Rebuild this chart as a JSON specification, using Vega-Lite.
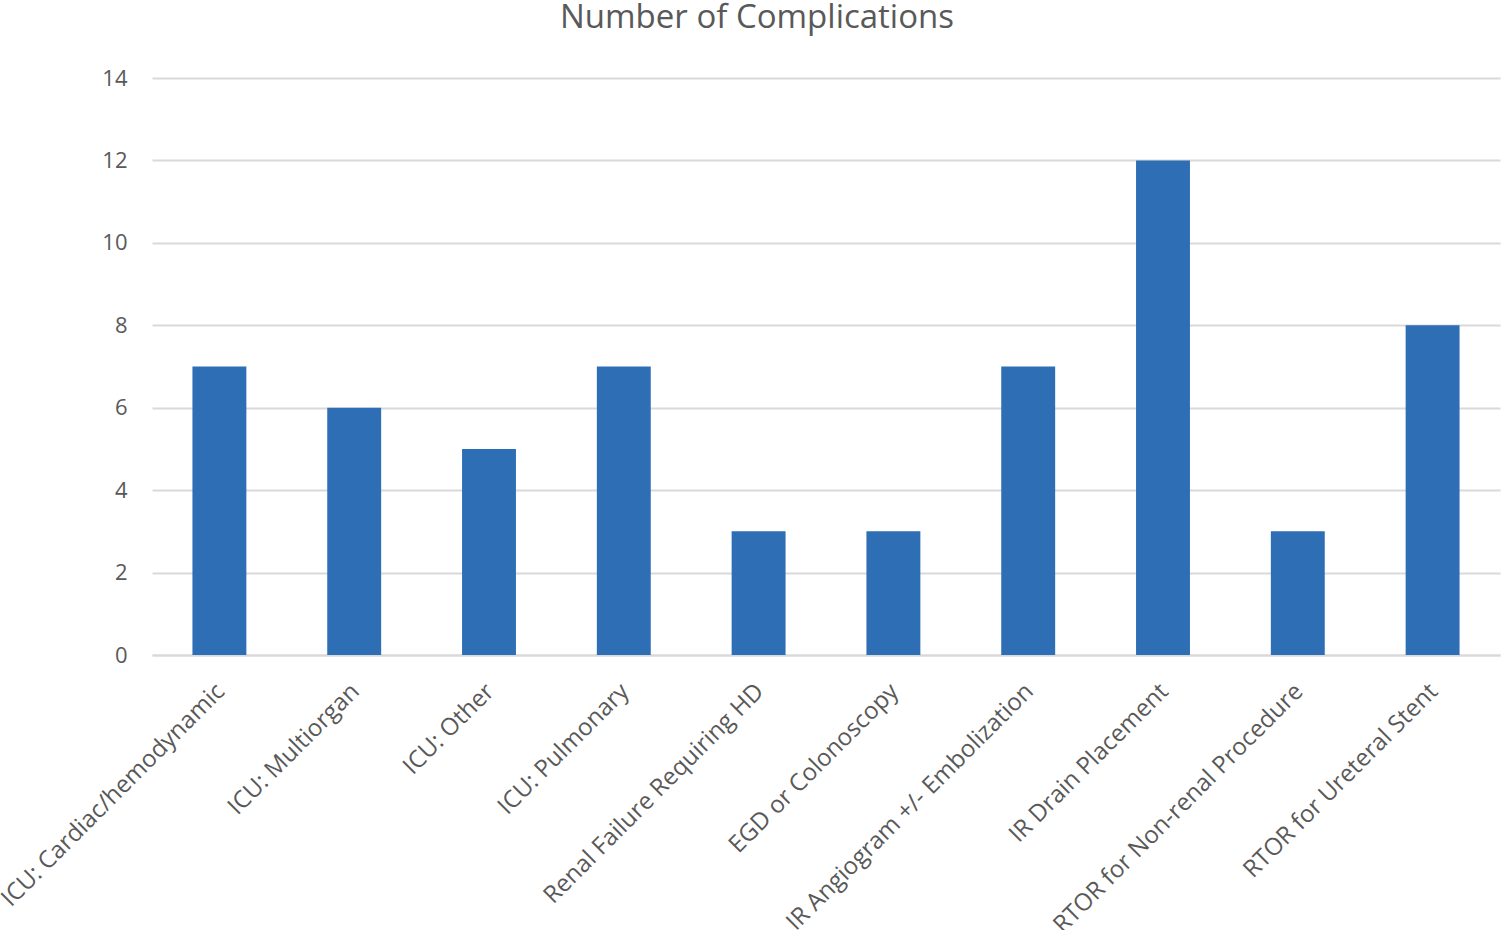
{
  "$schema": "https://vega.github.io/schema/vega-lite/v6.json",
  "autosize": {"type": "none"},
  "width": 1348,
  "height": 577,
  "padding": {"left": 152, "top": 78, "right": 2, "bottom": 275},
  "background": "white",
  "title": {
    "text": "Number of Complications",
    "anchor": "middle",
    "dx": -69,
    "offset": 32,
    "font": "Open Sans",
    "fontSize": 33,
    "fontWeight": "normal",
    "color": "#595959"
  },
  "data": {
    "values": [
      {"category": "ICU: Cardiac/hemodynamic", "count": 7},
      {"category": "ICU: Multiorgan", "count": 6},
      {"category": "ICU: Other", "count": 5},
      {"category": "ICU: Pulmonary", "count": 7},
      {"category": "Renal Failure Requiring HD", "count": 3},
      {"category": "EGD or Colonoscopy", "count": 3},
      {"category": "IR Angiogram +/- Embolization", "count": 7},
      {"category": "IR Drain Placement", "count": 12},
      {"category": "RTOR for Non-renal Procedure", "count": 3},
      {"category": "RTOR for Ureteral Stent", "count": 8}
    ]
  },
  "mark": {"type": "bar", "color": "#2E6EB5"},
  "encoding": {
    "x": {
      "field": "category",
      "type": "nominal",
      "sort": null,
      "scale": {"paddingInner": 0.6, "paddingOuter": 0.3},
      "axis": {
        "title": null,
        "labelAngle": -45,
        "labelFont": "Open Sans",
        "labelFontSize": 24,
        "labelColor": "#595959",
        "labelPadding": 24,
        "labelOffset": -7,
        "ticks": false,
        "domainColor": "#d9d9d9",
        "domainWidth": 2,
        "labelLimit": 400
      }
    },
    "y": {
      "field": "count",
      "type": "quantitative",
      "scale": {"domain": [0, 14]},
      "axis": {
        "title": null,
        "values": [0, 2, 4, 6, 8, 10, 12, 14],
        "labelFont": "Open Sans",
        "labelFontSize": 22,
        "labelColor": "#595959",
        "labelPadding": 25,
        "ticks": false,
        "domain": false,
        "gridColor": "#d9d9d9",
        "gridWidth": 2
      }
    }
  },
  "config": {"view": {"stroke": null}}
}
